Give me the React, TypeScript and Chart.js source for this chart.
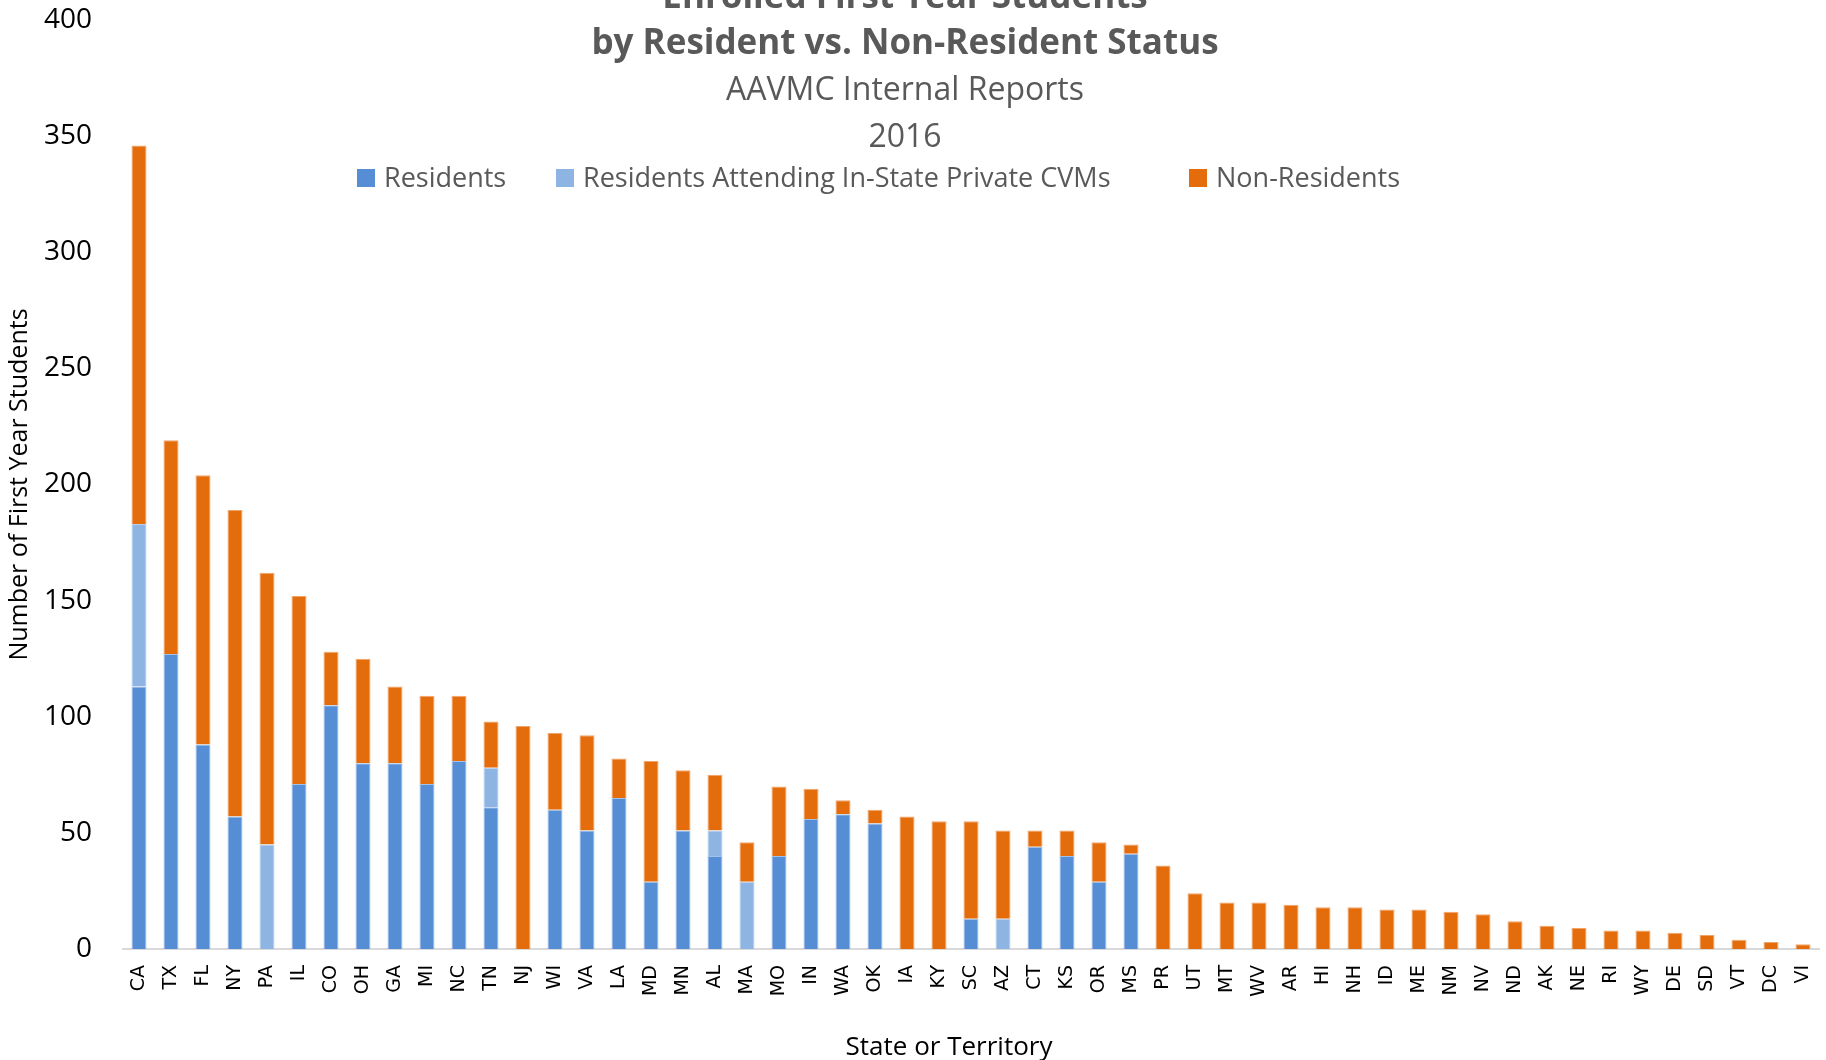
import React, { useEffect, useRef } from 'react';
import { Chart, registerables } from 'chart.js';

Chart.register(...registerables);

const STATES = ['CA','TX','FL','NY','PA','IL','CO','OH','GA','MI','NC','TN','NJ','WI','VA','LA','MD','MN','AL','MA','MO','IN','WA','OK','IA','KY','SC','AZ','CT','KS','OR','MS','PR','UT','MT','WV','AR','HI','NH','ID','ME','NM','NV','ND','AK','NE','RI','WY','DE','SD','VT','DC','VI'];

const RESIDENTS = [113,127,88,57,0,71,105,80,80,71,81,61,0,60,51,65,29,51,40,0,40,56,58,54,0,0,13,0,44,40,29,41,0,0,0,0,0,0,0,0,0,0,0,0,0,0,0,0,0,0,0,0,0];

const PRIVATE_CVM = [70,0,0,0,45,0,0,0,0,0,0,17,0,0,0,0,0,0,11,29,0,0,0,0,0,0,0,13,0,0,0,0,0,0,0,0,0,0,0,0,0,0,0,0,0,0,0,0,0,0,0,0,0];

const NON_RESIDENTS = [163,92,116,132,117,81,23,45,33,38,28,20,96,33,41,17,52,26,24,17,30,13,6,6,57,55,42,38,7,11,17,4,36,24,20,20,19,18,18,17,17,16,15,12,10,9,8,8,7,6,4,3,2];

const SERIES_NAMES = ['Residents', 'Residents Attending In-State Private CVMs', 'Non-Residents'];
const TITLE_LINES = ['Enrolled First Year Students', 'by Resident vs. Non-Resident Status'];
const SUBTITLE_LINES = ['AAVMC Internal Reports', '2016'];
const X_TITLE = 'State or Territory';
const Y_TITLE = 'Number of First Year Students';
const Y_MIN = 0;
const Y_MAX = 400;
const Y_STEP = 50;

const COLORS = ['#558ED5', '#8EB4E3', '#E46C0A'];
const BORDERS = ['#A4C1EA', '#B9D0EE', '#F1A56B'];
const TEXT_FONT = '"Open Sans"';
const LEGEND_ITEM_X = [357, 556, 1189];

const overlayPlugin = {
  id: 'overlayText',
  afterDraw(chart: any) {
    const ctx = chart.ctx as CanvasRenderingContext2D;
    ctx.save();
    ctx.fillStyle = '#595959';
    ctx.textAlign = 'center';
    ctx.textBaseline = 'alphabetic';
    ctx.font = `bold 35px ${TEXT_FONT}`;
    ctx.fillText(TITLE_LINES[0], 905, 8);
    ctx.fillText(TITLE_LINES[1], 905, 54);
    ctx.font = `32px ${TEXT_FONT}`;
    ctx.fillText(SUBTITLE_LINES[0], 905, 100);
    ctx.fillText(SUBTITLE_LINES[1], 905, 147);

    // legend
    ctx.font = `27px ${TEXT_FONT}`;
    ctx.textAlign = 'left';
    chart.data.datasets.forEach((ds: any, i: number) => {
      const x = LEGEND_ITEM_X[i];
      ctx.fillStyle = COLORS[i];
      ctx.fillRect(x, 169, 18, 18);
      ctx.fillStyle = '#595959';
      ctx.fillText(ds.label, x + 27, 187);
    });

    // x axis title
    ctx.fillStyle = '#000000';
    ctx.textAlign = 'center';
    ctx.font = `26px ${TEXT_FONT}`;
    ctx.fillText(X_TITLE, 949, 1055);
    ctx.restore();
  },
};

export default function App() {
  const ref = useRef<HTMLCanvasElement | null>(null);

  useEffect(() => {
    if (!ref.current) return;
    const mk = (i: number, data: number[]) => ({
      label: SERIES_NAMES[i],
      data,
      backgroundColor: COLORS[i],
      borderColor: BORDERS[i],
      borderWidth: 1,
      stack: 'total',
      barPercentage: 0.47,
      categoryPercentage: 1,
    });
    const chart = new Chart(ref.current, {
      type: 'bar',
      data: {
        labels: STATES,
        datasets: [mk(0, RESIDENTS), mk(1, PRIVATE_CVM), mk(2, NON_RESIDENTS)],
      },
      options: {
        responsive: false,
        animation: false,
        devicePixelRatio: 1,
        layout: { padding: { left: 0, right: 7, top: 20, bottom: 0 } },
        plugins: {
          legend: { display: false },
          title: { display: false },
          tooltip: { enabled: false },
        },
        scales: {
          x: {
            stacked: true,
            grid: { display: false, drawTicks: true, tickLength: 16 },
            border: { display: true, color: '#D9D9D9', width: 2 },
            ticks: {
              autoSkip: false,
              minRotation: 90,
              maxRotation: 90,
              padding: 0,
              color: '#000000',
              font: { family: 'DejaVu Sans', size: 19 },
            },
            afterFit: (scale: any) => { scale.height = 111; },
          },
          y: {
            stacked: true,
            min: Y_MIN,
            max: Y_MAX,
            grid: { display: false, drawTicks: true, tickLength: 31 },
            border: { display: false },
            ticks: {
              stepSize: Y_STEP,
              padding: 0,
              color: '#000000',
              font: { family: 'Open Sans', size: 28 },
            },
            title: {
              display: true,
              text: Y_TITLE,
              color: '#000000',
              font: { family: 'Open Sans', size: 25 },
              padding: { top: 5, bottom: 0 },
            },
            afterFit: (scale: any) => { scale.width = 123; },
          },
        },
      },
      plugins: [overlayPlugin],
    });
    return () => chart.destroy();
  }, []);

  return (
    <div style={{ position: 'fixed', left: 0, top: 0, width: 1826, height: 1060, background: '#fff' }}>
      <canvas ref={ref} width={1826} height={1060} style={{ width: 1826, height: 1060, display: 'block' }} />
    </div>
  );
}
